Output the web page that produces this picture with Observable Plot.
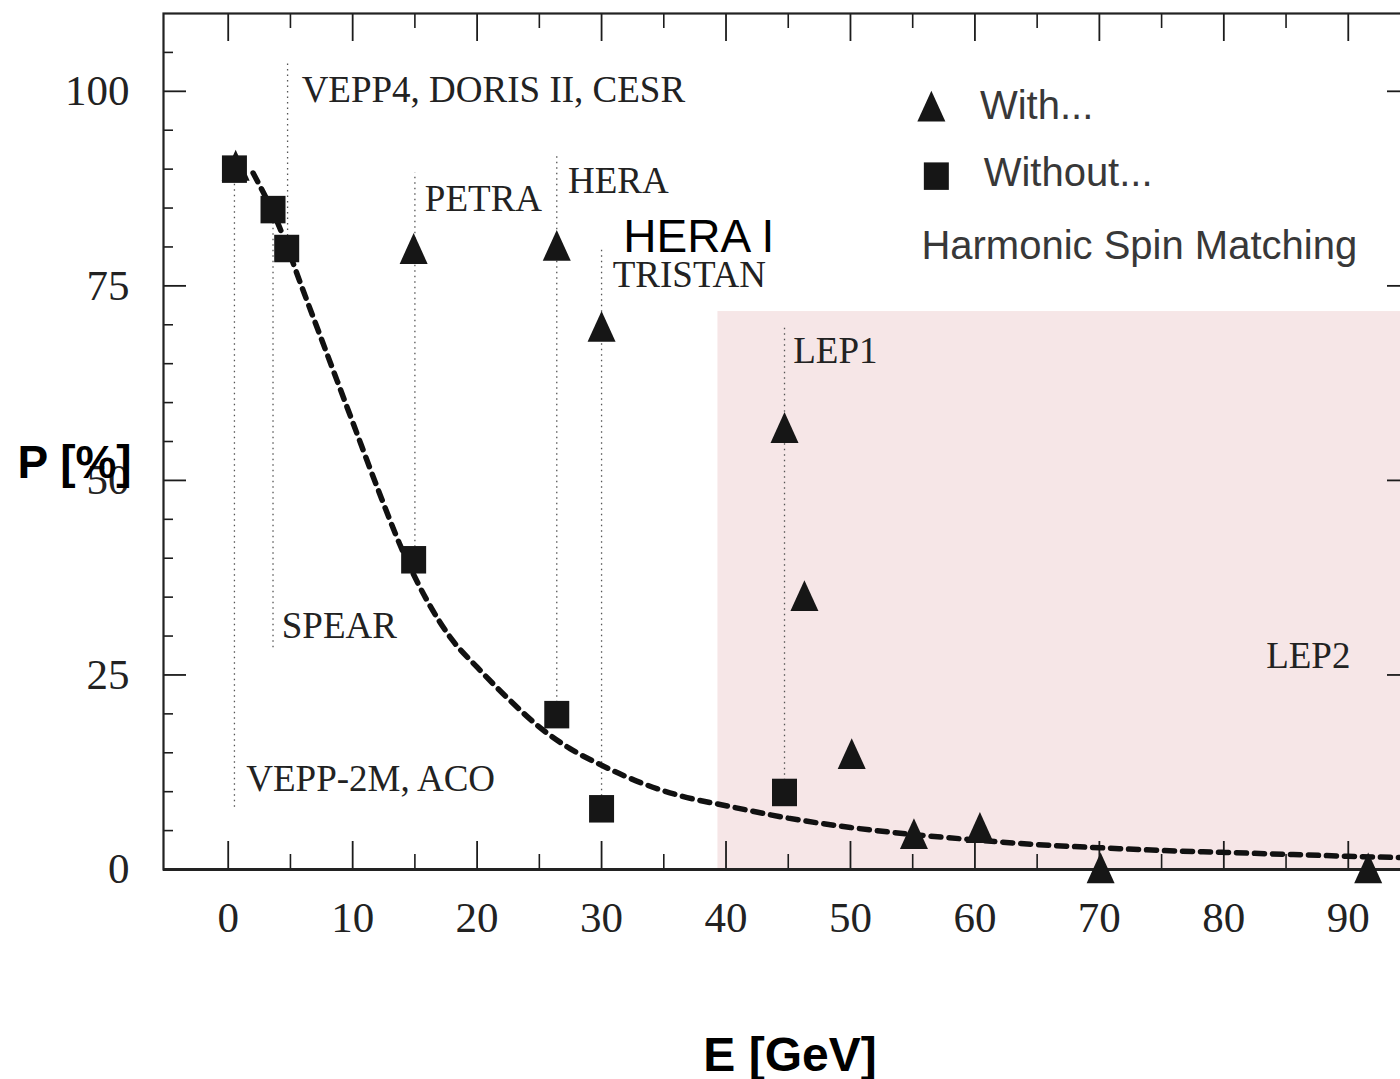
<!DOCTYPE html>
<html><head><meta charset="utf-8">
<script src="https://cdn.jsdelivr.net/npm/d3@7"></script>
<script src="https://cdn.jsdelivr.net/npm/@observablehq/plot@0.6"></script>
<style>html,body{margin:0;padding:0;overflow:hidden;background:#fff}</style>
</head><body><div id="chart"></div>
<script>
// ---- data ----
const withE = [0.6, 14.9, 26.4, 30, 44.7, 46.3, 50.1, 55.1, 60.4, 70.1, 91.6];
const withP = [90.5, 79.8, 80.2, 69.8, 56.8, 35.2, 14.9, 4.6, 5.4, 0.2, 0.2];
const withoutE = [0.5, 3.6, 4.7, 14.9, 26.4, 30, 44.7];
const withoutP = [90, 84.8, 79.8, 39.8, 19.9, 7.8, 9.9];
const curveE = [2, 4, 6, 8, 10, 12, 14, 16, 18, 20, 22.4, 25.4, 27.5, 30, 33.4, 36.5, 40, 45, 50, 55, 60, 65, 70, 75, 80, 85, 90, 95];
const curveP = [89.5, 83, 74.5, 66, 57.5, 49, 41, 34.5, 29.5, 26, 22.1, 17.8, 15.5, 13.4, 11, 9.4, 8.2, 6.6, 5.4, 4.5, 3.8, 3.2, 2.8, 2.45, 2.2, 1.95, 1.7, 1.5];
// machine guide lines (dotted)
const guideE = [0.5, 3.6, 4.77, 15, 26.4, 30, 44.7];
const guideTop = [90, 85, 103.5, 89.5, 91.7, 79.7, 69.8];
const guideBottom = [8, 28.5, 80, 40, 20, 8, 10];
// machine labels
const labelText = ["VEPP-2M, ACO", "SPEAR", "VEPP4, DORIS II, CESR", "PETRA", "HERA", "TRISTAN", "LEP1", "LEP2"];
const labelE = [1.45, 4.3, 5.9, 15.8, 27.3, 30.9, 45.4, 83.4];
const labelP = [10.1, 29.8, 98.6, 84.6, 86.9, 74.8, 65.1, 25.9];
// LEP2 region
const lep2E = [39.35, 95];
const lep2P = [0, 71.7];
// ticks
const xMajor = [0, 10, 20, 30, 40, 50, 60, 70, 80, 90];
const xMinor = [5, 15, 25, 35, 45, 55, 65, 75, 85];
const yMajor = [0, 25, 50, 75, 100];
const yMinor = [5, 10, 15, 20, 30, 35, 40, 45, 55, 60, 65, 70, 80, 85, 90, 95, 105];
// legend
const legendText = ["With...", "Without...", "Harmonic Spin Matching"];
const legendE = [60.4, 60.7, 55.7];
const legendP = [96.5, 87.8, 78.4];
const legendSymE = [56.5, 56.9];
const legendSymP = [98.1, 89.1];

const withData = withE.map((e, i) => ({e, p: withP[i]}));
const withoutData = withoutE.map((e, i) => ({e, p: withoutP[i]}));
const curve = curveE.map((e, i) => ({e, p: curveP[i]}));
const guides = guideE.map((e, i) => ({e, top: guideTop[i], bottom: guideBottom[i]}));
const labels = labelText.map((t, i) => ({t, e: labelE[i], p: labelP[i]}));
const legend = legendText.map((t, i) => ({t, e: legendE[i], p: legendP[i]}));

const tri = {draw(ctx, size) {
  const w = 2 * Math.sqrt(size / Math.PI), h = w * 1.1;
  ctx.moveTo(0, -h / 2); ctx.lineTo(w / 2, h / 2); ctx.lineTo(-w / 2, h / 2); ctx.closePath();
}};
const sq = {draw(ctx, size) {
  const w = 2 * Math.sqrt(size / Math.PI), h = w * 1.1;
  ctx.rect(-w / 2, -h / 2, w, h);
}};

const W = 1410, H = 1079, ML = 163, MR = 0, MT = 13, MB = 210;
const FW = W - ML - MR, FH = H - MT - MB;
const serif = "Liberation Serif, Times New Roman, serif";
const sans = "Liberation Sans, Arial, sans-serif";
const ink = "#1c1c1c";

const chart = Plot.plot({
  width: W, height: H,
  marginLeft: ML, marginRight: MR, marginTop: MT, marginBottom: MB,
  x: {domain: [-5.2, 95], axis: null},
  y: {domain: [0, 110], axis: null},
  style: {background: "white", maxWidth: "none", overflow: "visible"},
  marks: [
    Plot.rect([0], {x1: () => lep2E[0], x2: () => lep2E[1], y1: () => lep2P[0], y2: () => lep2P[1], fill: "#f6e6e7"}),
    Plot.ruleX(guides, {x: "e", y1: "bottom", y2: "top", stroke: "#555", strokeWidth: 1.3, strokeDasharray: "1.5,4"}),
    // ticks
    Plot.tickX(xMajor, {x: d => d, insetTop: FH - 28, stroke: ink, strokeWidth: 1.8}),
    Plot.tickX(xMinor, {x: d => d, insetTop: FH - 15, stroke: ink, strokeWidth: 1.6}),
    Plot.tickX(xMajor, {x: d => d, insetBottom: FH - 28, stroke: ink, strokeWidth: 1.8}),
    Plot.tickX(xMinor, {x: d => d, insetBottom: FH - 15, stroke: ink, strokeWidth: 1.6}),
    Plot.tickY(yMajor, {y: d => d, insetRight: FW - 23, stroke: ink, strokeWidth: 1.8}),
    Plot.tickY(yMinor, {y: d => d, insetRight: FW - 10, stroke: ink, strokeWidth: 1.6}),
    Plot.tickY(yMajor, {y: d => d, insetLeft: FW - 23, stroke: ink, strokeWidth: 1.8}),
    Plot.tickY(yMinor, {y: d => d, insetLeft: FW - 10, stroke: ink, strokeWidth: 1.6}),
    Plot.frame({stroke: "#222", strokeWidth: 2.2}),
    Plot.ruleY([0], {y: d => d, stroke: "#222", strokeWidth: 3}),
    // tick labels
    Plot.text(xMajor, {x: d => d, frameAnchor: "bottom", lineAnchor: "bottom", dy: 62, text: d => String(d), fontFamily: serif, fontSize: 43, fill: "#222"}),
    Plot.text(yMajor, {y: d => d, frameAnchor: "left", textAnchor: "end", lineAnchor: "middle", dx: -34, text: d => String(d), fontFamily: serif, fontSize: 43, fill: "#222"}),
    // curve
    Plot.line(curve, {x: "e", y: "p", curve: "monotone-x", stroke: "#111", strokeWidth: 5.5, strokeDasharray: "10,8"}),
    // markers
    Plot.dot(withData, {x: "e", y: "p", symbol: tri, r: 14, fill: "#161616", stroke: "none"}),
    Plot.dot(withoutData, {x: "e", y: "p", symbol: sq, r: 12.5, fill: "#161616", stroke: "none"}),
    // machine labels
    Plot.text(labels, {x: "e", y: "p", text: "t", textAnchor: "start", lineAnchor: "bottom", fontFamily: serif, fontSize: 37, fill: "#222"}),
    // HERA I overlay
    Plot.rect([0], {x1: () => 30.9, x2: () => 44.2, y1: () => 78.5, y2: () => 84.4, fill: "white"}),
    Plot.text(["HERA I"], {x: () => 31.75, y: () => 79.3, text: d => d, textAnchor: "start", lineAnchor: "bottom", fontFamily: sans, fontSize: 46, fill: "#000"}),
    // legend
    Plot.dot([0], {x: () => legendSymE[0], y: () => legendSymP[0], symbol: tri, r: 14, fill: "#161616"}),
    Plot.dot([0], {x: () => legendSymE[1], y: () => legendSymP[1], symbol: sq, r: 12.5, fill: "#161616"}),
    Plot.text(legend, {x: "e", y: "p", text: "t", textAnchor: "start", lineAnchor: "bottom", fontFamily: sans, fontSize: 40, fill: "#383838"}),
    // axis titles
    Plot.text(["P [%]"], {frameAnchor: "left", text: d => d, textAnchor: "start", lineAnchor: "bottom", dx: -146, dy: 36, fontFamily: sans, fontWeight: "bold", fontSize: 46, fill: "#000"}),
    Plot.text(["E [GeV]"], {frameAnchor: "bottom", text: d => d, textAnchor: "middle", lineAnchor: "bottom", dx: 3, dy: 201, fontFamily: sans, fontWeight: "bold", fontSize: 48, fill: "#000"})
  ]
});
document.getElementById("chart").appendChild(chart);
</script>
</body></html>
